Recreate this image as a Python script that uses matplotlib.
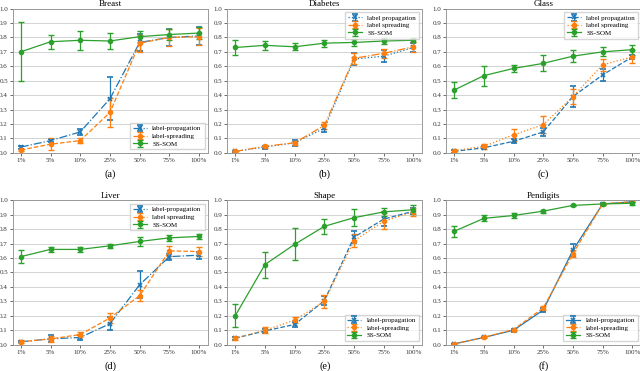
import matplotlib
matplotlib.use('Agg')
import matplotlib.pyplot as plt
import numpy as np

# ── Data ──────────────────────────────────────────────────────────────────────
labeled = ['1%', '5%', '10%', '25%', '50%', '75%', '100%']
titles  = ['Breast', 'Diabetes', 'Glass', 'Liver', 'Shape', 'Pendigits']
captions = ['(a)', '(b)', '(c)', '(d)', '(e)', '(f)']

lp_mean = [
    [0.04, 0.085, 0.145, 0.375, 0.765, 0.80, 0.81],
    [0.01, 0.04, 0.07, 0.17, 0.65, 0.67, 0.73],
    [0.01, 0.035, 0.08, 0.145, 0.39, 0.54, 0.665],
    [0.02, 0.04, 0.05, 0.145, 0.415, 0.61, 0.62],
    [0.045, 0.095, 0.14, 0.305, 0.745, 0.87, 0.925],
    [0.005, 0.05, 0.10, 0.24, 0.655, 0.975, 0.99],
]
lp_err = [
    [0.01, 0.01, 0.02, 0.15, 0.06, 0.06, 0.06],
    [0.005, 0.01, 0.02, 0.025, 0.04, 0.04, 0.03],
    [0.01, 0.01, 0.015, 0.025, 0.07, 0.04, 0.015],
    [0.005, 0.025, 0.015, 0.045, 0.095, 0.02, 0.025],
    [0.01, 0.015, 0.02, 0.03, 0.04, 0.05, 0.02],
    [0.003, 0.005, 0.01, 0.015, 0.04, 0.005, 0.003],
]
ls_mean = [
    [0.02, 0.06, 0.085, 0.28, 0.76, 0.80, 0.805],
    [0.01, 0.045, 0.07, 0.19, 0.655, 0.69, 0.735],
    [0.015, 0.045, 0.125, 0.195, 0.39, 0.61, 0.665],
    [0.02, 0.04, 0.07, 0.185, 0.34, 0.65, 0.645],
    [0.045, 0.10, 0.17, 0.30, 0.72, 0.855, 0.92],
    [0.005, 0.05, 0.105, 0.255, 0.63, 0.975, 0.99],
]
ls_err = [
    [0.01, 0.04, 0.02, 0.10, 0.06, 0.06, 0.06],
    [0.005, 0.01, 0.015, 0.025, 0.04, 0.03, 0.035],
    [0.01, 0.015, 0.04, 0.06, 0.05, 0.04, 0.045],
    [0.01, 0.02, 0.015, 0.035, 0.04, 0.035, 0.03],
    [0.01, 0.02, 0.02, 0.045, 0.045, 0.055, 0.03],
    [0.003, 0.005, 0.008, 0.015, 0.025, 0.005, 0.003],
]
som_mean = [
    [0.70, 0.77, 0.78, 0.775, 0.805, 0.82, 0.83],
    [0.73, 0.745, 0.735, 0.76, 0.765, 0.775, 0.78],
    [0.435, 0.535, 0.585, 0.62, 0.67, 0.70, 0.715],
    [0.61, 0.66, 0.66, 0.685, 0.715, 0.74, 0.75],
    [0.20, 0.555, 0.695, 0.82, 0.88, 0.92, 0.935],
    [0.785, 0.875, 0.895, 0.925, 0.965, 0.975, 0.98],
]
som_err = [
    [0.205, 0.05, 0.065, 0.055, 0.04, 0.04, 0.04],
    [0.05, 0.03, 0.025, 0.025, 0.025, 0.02, 0.015],
    [0.055, 0.07, 0.025, 0.055, 0.04, 0.03, 0.035],
    [0.045, 0.02, 0.02, 0.015, 0.03, 0.02, 0.02],
    [0.08, 0.09, 0.11, 0.05, 0.06, 0.03, 0.03],
    [0.04, 0.02, 0.015, 0.01, 0.005, 0.005, 0.01],
]
lp_names = ['label-propagation', 'label propagation', 'label propagation',
            'label-propagation', 'label-propagation', 'label-propagation']
ls_names = ['label-spreading', 'label spreading', 'label spreading',
            'label spreading', 'label-spreading', 'label-spreading']

# ── Style ─────────────────────────────────────────────────────────────────────
plt.rcParams['font.family'] = ['Liberation Serif', 'DejaVu Serif']
legend_loc = ['lower right', 'upper right', 'upper right',
              'upper right', 'lower right', 'lower right']
lp_style = ['-.', ':', '--', '-.', '--', '-']
ls_style = ['--', '-.', ':', '--', ':', '--']

fig = plt.figure(figsize=(6.4, 3.71), dpi=100)
lefts   = [0.020, 0.355, 0.697]
bottoms = [0.588, 0.071]
w, h = 0.305, 0.389

x = np.arange(len(labeled))
for i in range(6):
    r, c = divmod(i, 3)
    ax = fig.add_axes([lefts[c], bottoms[r], w, h])
    kw = dict(capsize=2.2, elinewidth=0.9, linewidth=0.9, markersize=3)
    ax.errorbar(x, lp_mean[i], yerr=lp_err[i], color='#1f77b4',
                linestyle=lp_style[i], marker='x', markeredgewidth=1.2,
                label=lp_names[i], **kw)
    ax.errorbar(x, ls_mean[i], yerr=ls_err[i], color='#ff7f0e',
                linestyle=ls_style[i], marker='o', label=ls_names[i], **kw)
    ax.errorbar(x, som_mean[i], yerr=som_err[i], color='#2ca02c',
                linestyle='-', marker='o', label='SS-SOM', **kw)

    ax.set_xlim(-0.27, 6.3)
    ax.set_ylim(0, 1.0)
    ax.set_yticks(np.arange(0, 1.01, 0.1))
    ax.set_yticklabels([f'{v:.1f}' for v in np.arange(0, 1.01, 0.1)])
    ax.set_xticks(x)
    ax.set_xticklabels(labeled)
    ax.tick_params(labelsize=5, length=2, width=0.5, pad=1.5,
                   colors='#333333')
    ax.yaxis.grid(True, color='#cccccc', linewidth=0.6)
    ax.set_axisbelow(True)
    for s in ax.spines.values():
        s.set_color('#999999')
        s.set_linewidth(0.7)
    ax.set_title(titles[i], fontsize=6.5, pad=1.5)
    ax.legend(loc=legend_loc[i], fontsize=5, frameon=True,
              fancybox=False, edgecolor='#cccccc', handlelength=2.0,
              borderpad=0.4, labelspacing=0.25)
    fig.text(lefts[c] + w / 2, bottoms[r] - 0.057, captions[i],
             ha='center', va='center', fontsize=7.5)

fig.savefig('out.png', dpi=100)
